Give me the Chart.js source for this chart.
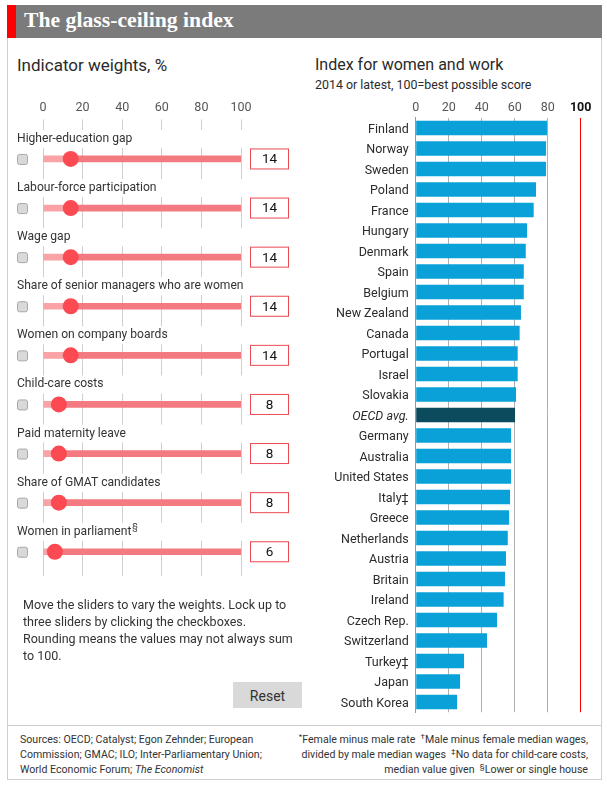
<!DOCTYPE html>
<html><head><meta charset="utf-8">
<script src="https://cdn.jsdelivr.net/npm/chart.js@4.4.1/dist/chart.umd.min.js"></script>
<style>
html,body{margin:0;padding:0;background:#fff;}
body{width:607px;height:787px;position:relative;overflow:hidden;font-family:Roboto,"Noto Sans",sans-serif;color:#333;}
.abs{position:absolute;}
#frame{left:7px;top:5px;width:593px;height:773px;border:1px solid #cfcfcf;}
#titlebar{left:7px;top:5px;width:595px;height:33px;background:#7b7b7b;}
#redstripe{left:7px;top:5px;width:9px;height:33px;background:#ff0000;}
#title{left:24px;top:4px;height:33px;line-height:33px;font-family:"Liberation Serif",serif;font-weight:bold;font-size:21.7px;color:#fff;white-space:nowrap;}
#sep{left:7px;top:725px;width:595px;height:1px;background:#cfcfcf;}
#lhead{left:17px;top:55px;font-size:17px;line-height:20px;color:#2a2a2a;white-space:nowrap;}
#rhead{left:315px;top:55px;font-size:16px;line-height:20px;color:#2a2a2a;white-space:nowrap;}
#rsub{left:315px;top:76px;font-size:12.4px;line-height:17px;color:#2a2a2a;white-space:nowrap;}
#instr{left:23px;top:596px;font-size:12.5px;line-height:17px;color:#333;white-space:nowrap;}
#reset{left:233px;top:682px;width:69px;height:26px;background:#d9d9d9;font-size:14px;line-height:28px;text-align:center;color:#333;}
#fleft{left:20px;top:732px;font-size:10.6px;line-height:15px;color:#333;white-space:nowrap;}
#fright{right:19px;top:732px;font-size:10.6px;line-height:15px;color:#333;text-align:right;white-space:nowrap;}
sup{font-size:8px;line-height:0;vertical-align:4px;}
#left{left:0;top:0;}
#right{left:300px;top:0;}
</style>
</head>
<body>
<div id="frame" class="abs"></div>
<div id="titlebar" class="abs"></div>
<div id="redstripe" class="abs"></div>
<div id="title" class="abs">The glass-ceiling index</div>
<div id="lhead" class="abs">Indicator weights, %</div>
<div id="rhead" class="abs">Index for women and work</div>
<div id="rsub" class="abs">2014 or latest, 100=best possible score</div>
<canvas id="left" class="abs" width="300" height="600" style="width:300px;height:600px"></canvas>
<canvas id="right" class="abs" width="307" height="730" style="width:307px;height:730px"></canvas>
<div id="instr" class="abs">Move the sliders to vary the weights. Lock up to<br>three sliders by clicking the checkboxes.<br>Rounding means the values may not always sum<br>to 100.</div>
<div id="reset" class="abs">Reset</div>
<div id="sep" class="abs"></div>
<div id="fleft" class="abs">Sources: OECD; Catalyst; Egon Zehnder; European<br>Commission; GMAC; ILO; Inter-Parliamentary Union;<br>World Economic Forum; <i>The Economist</i></div>
<div id="fright" class="abs"><sup>*</sup>Female minus male rate &nbsp;<sup>†</sup>Male minus female median wages,<br>divided by male median wages &nbsp;<sup>‡</sup>No data for child-care costs,<br>median value given &nbsp;<sup>§</sup>Lower or single house</div>
<script>
// ---------- data ----------
const indicators = ['Higher-education gap','Labour-force participation','Wage gap','Share of senior managers who are women','Women on company boards','Child-care costs','Paid maternity leave','Share of GMAT candidates','Women in parliament'];
const indicatorNotes = ['','','','','','','','','§'];
const weights = [14,14,14,14,14,8,8,8,6];
const weightTicks = [0,20,40,60,80,100];

const countries = ['Finland','Norway','Sweden','Poland','France','Hungary','Denmark','Spain','Belgium','New Zealand','Canada','Portugal','Israel','Slovakia','OECD avg.','Germany','Australia','United States','Italy‡','Greece','Netherlands','Austria','Britain','Ireland','Czech Rep.','Switzerland','Turkey‡','Japan','South Korea'];
const scores = [79.6,79.0,79.0,72.9,71.5,67.5,66.7,65.5,65.5,63.8,63.0,61.8,61.8,60.8,60.2,57.8,57.8,57.8,57.2,56.6,55.8,54.7,54.1,53.3,49.3,43.2,29.3,26.9,25.1];
const scoreTicks = [0,20,40,60,80,100];
const averageLabel = 'OECD avg.';

const FONT = 'Roboto';

// ---------- left panel: sliders ----------
const sliderDecor = {
  id:'sliderDecor',
  afterDraw(chart){
    const ctx = chart.ctx, y = chart.scales.y;
    ctx.save();
    indicators.forEach((name,i)=>{
      const cy = y.getPixelForValue(i);
      // white strip behind label
      ctx.fillStyle = '#fff';
      ctx.fillRect(9, cy-29, 291, 18);
      ctx.font = '12.1px '+FONT; ctx.fillStyle = '#333'; ctx.textBaseline = 'middle'; ctx.textAlign = 'left';
      ctx.fillText(name, 17, cy-20);
      if (indicatorNotes[i]) {
        const w = ctx.measureText(name).width;
        ctx.font = '9px '+FONT;
        ctx.fillText(indicatorNotes[i], 17+w+1, cy-24);
      }
      // checkbox
      ctx.fillStyle = '#d9d9d9'; ctx.strokeStyle = '#a8a8a8'; ctx.lineWidth = 1;
      ctx.beginPath(); ctx.roundRect(17.5, cy-4.5, 10, 10, 2); ctx.fill(); ctx.stroke();
      // value box
      ctx.fillStyle = '#fff'; ctx.fillRect(250.5, cy-10, 38, 20);
      ctx.strokeStyle = '#ec4a52'; ctx.strokeRect(250.5, cy-10, 38, 20);
      ctx.fillStyle = '#111'; ctx.font = '13.5px '+FONT; ctx.textAlign = 'center';
      ctx.fillText(String(weights[i]), 269.5, cy+1);
    });
    ctx.restore();
  }
};

new Chart(document.getElementById('left'), {
  type:'bar',
  data:{
    labels: indicators,
    datasets:[
      {type:'line', label:'thumb', data: weights.map((w,i)=>({x:w, y:indicators[i]})), showLine:false,
       pointRadius:8, pointHoverRadius:8, pointBackgroundColor:'#fb4a52', pointBorderWidth:0, order:0},
      {label:'weight', data: weights.map(w=>[0,w]), backgroundColor:'#f9a3a6', barThickness:6, grouped:false, order:1},
      {label:'rest', data: weights.map(w=>[w,100]), backgroundColor:'#f37a80', barThickness:6, grouped:false, order:2}
    ]
  },
  options:{
    indexAxis:'y', responsive:false, animation:false, events:[], devicePixelRatio:1,
    layout:{padding:{left:43, right:59, top:94.4, bottom:23.7}},
    plugins:{legend:{display:false}, tooltip:{enabled:false}},
    scales:{
      x:{position:'top', min:0, max:100,
         afterBuildTicks:s=>{ s.ticks = weightTicks.map(v=>({value:v})); },
         afterFit:s=>{ s.height = 40; },
         grid:{color:'#cfcfcf', tickColor:'#cfcfcf', tickLength:15, lineWidth:1},
         border:{display:false},
         ticks:{padding:4, color:'#555', font:{family:FONT, size:12.5}, maxRotation:0}},
      y:{display:false}
    }
  },
  plugins:[sliderDecor]
});

// ---------- right panel: index bars ----------
new Chart(document.getElementById('right'), {
  type:'bar',
  data:{
    labels: countries,
    datasets:[{
      label:'Index', data: scores,
      backgroundColor: countries.map(c => c===averageLabel ? '#0c4a5e' : '#0aa0d8'),
      barPercentage:0.71, categoryPercentage:1
    }]
  },
  options:{
    indexAxis:'y', responsive:false, animation:false, events:[], devicePixelRatio:1,
    layout:{padding:{left:0, right:26.3, top:89.75, bottom:17.75}},
    plugins:{legend:{display:false}, tooltip:{enabled:false}},
    scales:{
      x:{position:'top', min:0, max:100,
         afterBuildTicks:s=>{ s.ticks = scoreTicks.map(v=>({value:v})); },
         afterFit:s=>{ s.height = 28; },
         grid:{drawTicks:false, lineWidth:1,
               color: c => (c.tick && c.tick.value===100) ? '#ff0000' : '#b0b0b0'},
         border:{display:false},
         ticks:{padding:2, maxRotation:0,
                color: c => (c.tick && c.tick.value===100) ? '#111' : '#555',
                font: c => ({family:FONT, size:12.5, weight:(c.tick && c.tick.value===100) ? 'bold' : 'normal'})}},
      y:{afterFit:s=>{ s.width = 115.7; },
         grid:{display:false, drawTicks:false, drawOnChartArea:false},
         border:{display:true, color:'#999', width:1},
         ticks:{padding:7, labelOffset:1.5, color:'#2b2b2b',
                font: c => ({family:FONT, size:12.5, style: (countries[c.index]===averageLabel) ? 'italic' : 'normal'})}}
    }
  }
});
</script>
</body></html>
